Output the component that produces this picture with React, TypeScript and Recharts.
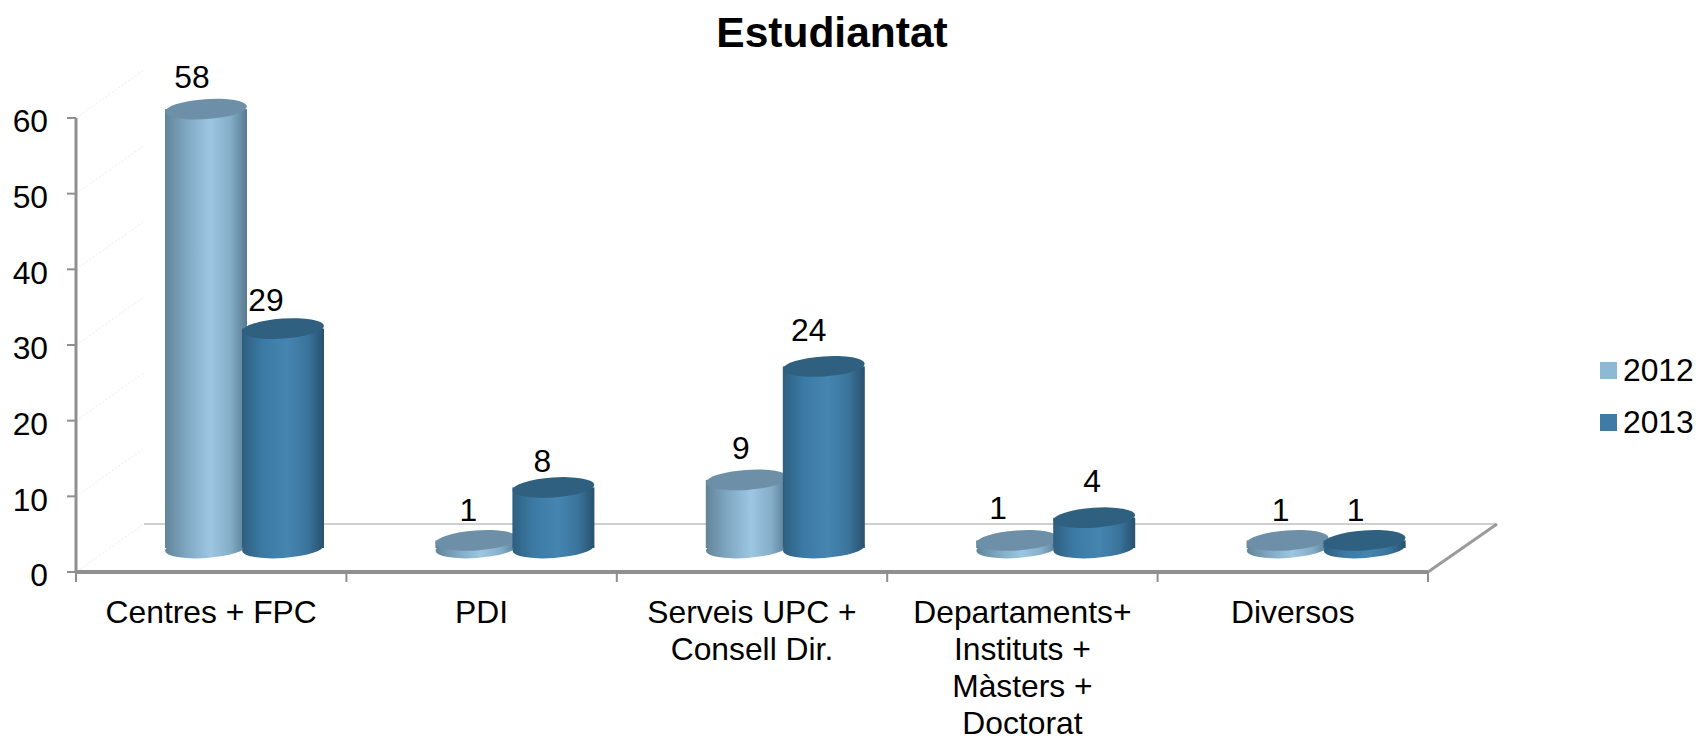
import React from 'react';
import { BarChart, Bar, XAxis, YAxis, LabelList, Legend, ReferenceLine } from 'recharts';

const categories = [
  ['Centres + FPC'],
  ['PDI'],
  ['Serveis UPC +', 'Consell Dir.'],
  ['Departaments+', 'Instituts +', 'Màsters +', 'Doctorat'],
  ['Diversos'],
];
const values2012 = [58, 1, 9, 1, 1];
const values2013 = [29, 8, 24, 4, 1];
const yTicks = [0, 10, 20, 30, 40, 50, 60];

const chartData = categories.map((lines, i) => ({
  name: lines.join(' '),
  lines,
  y2012: values2012[i],
  y2013: values2013[i],
}));

// data labels were placed by hand in the original, so they need nudging
const labelNudge2012 = [[-14, -32], [-8, -30], [-6, -32], [-19, -32], [-7, -30]];
const labelNudge2013 = [[-17, -29], [-11, -26], [-15, -36], [-2, -37], [-9, -30]];

const WIDTH = 1699;
const HEIGHT = 737;
const LEGEND_W = 99;
const PLOT_RIGHT = 1428;
const MARGIN = { top: 118, right: WIDTH - PLOT_RIGHT - LEGEND_W, bottom: 0, left: 0 };
const Y_AXIS_W = 76;
const X_AXIS_H = 165;
const BAND = (PLOT_RIGHT - Y_AXIS_W) / categories.length;
const FONT = '"Liberation Sans", Arial, sans-serif';
const FONT_SIZE = 31.8;
const AXIS_GREY = '#8f8f8f';

// fake 3D: floor depth, bars stand half way into it
const DEPTH_X = 68;
const DEPTH_Y = 48;
const BAR_DX = 33;
const BAR_DY = -24;
const RY = 10;

const colors = {
  2012: { top: '#6d90a8', id: 'cyl2012' },
  2013: { top: '#2f607f', id: 'cyl2013' },
};

const Cylinder = (props: any) => {
  const { x, y, width, height, year } = props;
  const c = colors[year as 2012 | 2013];
  const cx = x + width / 2 + BAR_DX;
  const top = y + BAR_DY;
  const bottom = y + height + BAR_DY;
  return (
    <g>
      <ellipse
        cx={cx}
        cy={bottom}
        rx={width / 2}
        ry={RY}
        fill={`url(#${c.id})`}
        transform={`rotate(-4 ${cx} ${bottom})`}
      />
      <rect x={cx - width / 2} y={top} width={width} height={height} fill={`url(#${c.id})`} />
      <ellipse
        cx={cx}
        cy={top}
        rx={width / 2}
        ry={RY}
        fill={c.top}
        transform={`rotate(-4 ${cx} ${top})`}
      />
    </g>
  );
};

const barLabel = (nudge: number[][]) => (props: any) => {
  const { x, y, width, value, index } = props;
  const [dx, dy] = nudge[index];
  return (
    <text
      x={x + width / 2 + BAR_DX + dx}
      y={y + BAR_DY + dy}
      textAnchor="middle"
      dominantBaseline="central"
      fontFamily={FONT}
      fontSize={FONT_SIZE}
      fill="#000"
    >
      {value}
    </text>
  );
};

const CategoryTick = (props: any) => {
  const { x, y, index } = props;
  const lines = categories[index] || [];
  const axisY = y - 8;
  const left = x - BAND / 2;
  const last = index === categories.length - 1;
  return (
    <g>
      <line x1={left} y1={axisY} x2={left} y2={axisY + 10} stroke={AXIS_GREY} strokeWidth={2} />
      {last && (
        <line x1={left + BAND} y1={axisY} x2={left + BAND} y2={axisY + 10} stroke={AXIS_GREY} strokeWidth={2} />
      )}
      <text textAnchor="middle" fontFamily={FONT} fontSize={FONT_SIZE} fill="#000">
        {lines.map((t: string, i: number) => (
          <tspan key={t} x={x} y={axisY + 51 + i * 37}>
            {t}
          </tspan>
        ))}
      </text>
    </g>
  );
};

const WallLine = (props: any) => {
  const { x1, y1 } = props;
  return (
    <line
      x1={x1}
      y1={y1}
      x2={x1 + DEPTH_X}
      y2={y1 - DEPTH_Y}
      stroke="#ededed"
      strokeWidth={1}
      strokeDasharray="2 2"
    />
  );
};

const FloorLines = (props: any) => {
  const { x1, y1, x2 } = props;
  return (
    <g>
      <line x1={x1 + DEPTH_X} y1={y1 - DEPTH_Y} x2={x2 + DEPTH_X} y2={y1 - DEPTH_Y} stroke="#cfcfcf" strokeWidth={2} />
      <line x1={x2} y1={y1} x2={x2 + DEPTH_X + 1} y2={y1 - DEPTH_Y} stroke="#9a9a9a" strokeWidth={3} />
    </g>
  );
};

const LegendBox = () => (
  <div style={{ fontFamily: FONT, fontSize: FONT_SIZE, color: '#000' }}>
    {[
      { label: '2012', color: '#8cb9d6' },
      { label: '2013', color: '#3f7ba5' },
    ].map((it) => (
      <div key={it.label} style={{ display: 'flex', alignItems: 'center', height: 52 }}>
        <span style={{ width: 17, height: 17, background: it.color, marginRight: 6 }} />
        {it.label}
      </div>
    ))}
  </div>
);

const App: React.FC = () => (
  <div style={{ position: 'absolute', left: 0, top: 0, width: WIDTH, height: HEIGHT, background: '#fff' }}>
    <BarChart
      width={WIDTH}
      height={HEIGHT}
      data={chartData}
      margin={MARGIN}
      barSize={82}
      barGap={-5}
    >
      <defs>
        <linearGradient id="cyl2012" x1="0" y1="0" x2="1" y2="0">
          <stop offset="0%" stopColor="#628498" />
          <stop offset="25%" stopColor="#7ea6c1" />
          <stop offset="55%" stopColor="#9cc6e2" />
          <stop offset="80%" stopColor="#84adc8" />
          <stop offset="100%" stopColor="#587a90" />
        </linearGradient>
        <linearGradient id="cyl2013" x1="0" y1="0" x2="1" y2="0">
          <stop offset="0%" stopColor="#2f5f80" />
          <stop offset="25%" stopColor="#3b7aa4" />
          <stop offset="55%" stopColor="#4585b1" />
          <stop offset="80%" stopColor="#3a749c" />
          <stop offset="100%" stopColor="#28516e" />
        </linearGradient>
      </defs>
      <text
        x={832}
        y={32}
        textAnchor="middle"
        dominantBaseline="central"
        fontFamily={FONT}
        fontSize={42.5}
        fontWeight={700}
        fill="#000"
      >
        Estudiantat
      </text>
      <XAxis
        dataKey="name"
        height={X_AXIS_H}
        interval={0}
        tickLine={false}
        axisLine={{ stroke: AXIS_GREY, strokeWidth: 4 }}
        tick={<CategoryTick />}
      />
      <YAxis
        width={Y_AXIS_W}
        domain={[0, 60]}
        ticks={yTicks}
        interval={0}
        tickSize={9}
        tickMargin={19}
        tickLine={{ stroke: AXIS_GREY, strokeWidth: 2 }}
        axisLine={{ stroke: AXIS_GREY, strokeWidth: 3 }}
        tick={{ fontFamily: FONT, fontSize: FONT_SIZE, fill: '#000', dy: 3 }}
      />
      {yTicks.map((t) => (
        <ReferenceLine key={t} y={t} zIndex={50} shape={<WallLine />} />
      ))}
      <ReferenceLine y={0} zIndex={50} shape={<FloorLines />} />
      <Legend
        layout="vertical"
        verticalAlign="top"
        align="right"
        wrapperStyle={{ position: 'absolute', left: 1600, top: 344, width: LEGEND_W }}
        content={<LegendBox />}
      />
      <Bar dataKey="y2012" isAnimationActive={false} shape={<Cylinder year={2012} />}>
        <LabelList content={barLabel(labelNudge2012)} />
      </Bar>
      <Bar dataKey="y2013" isAnimationActive={false} shape={<Cylinder year={2013} />}>
        <LabelList content={barLabel(labelNudge2013)} />
      </Bar>
    </BarChart>
  </div>
);

export default App;
